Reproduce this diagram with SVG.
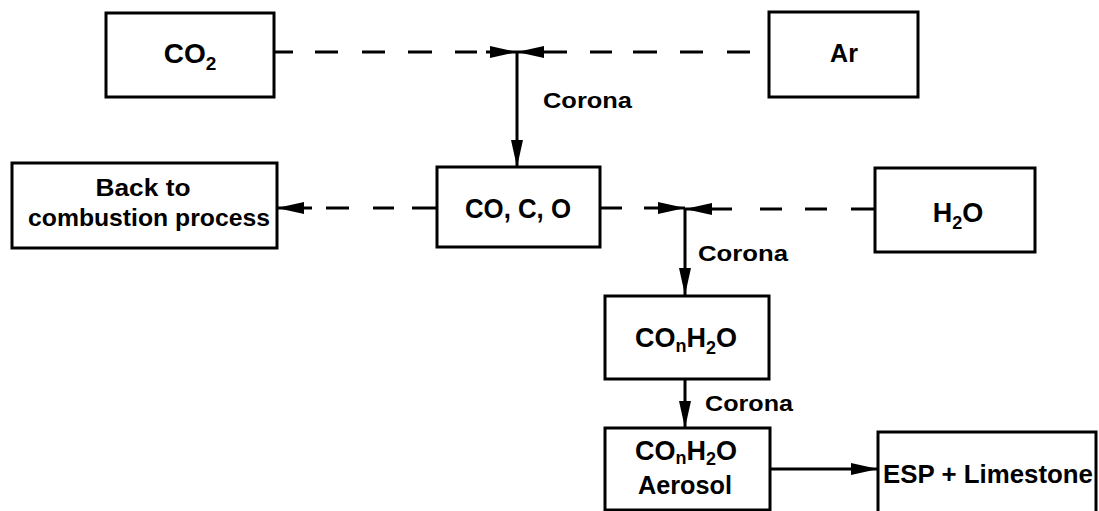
<svg xmlns="http://www.w3.org/2000/svg" width="1099" height="511" viewBox="0 0 1099 511">
<style>
.box{fill:#fff;stroke:#000;stroke-width:3}
.ln{fill:none;stroke:#000;stroke-width:3}
.t{font-family:"Liberation Sans",Arial,sans-serif;font-weight:bold;fill:#000;text-anchor:middle}
.lab{font-family:"Liberation Sans",Arial,sans-serif;font-weight:bold;fill:#000;font-size:22px}
</style>
<defs>
<marker id="ah" markerUnits="userSpaceOnUse" markerWidth="28" markerHeight="14" refX="27" refY="7" orient="auto">
<path d="M0,1 L27,7 L0,13 Z" fill="#000"/>
</marker>
</defs>
<rect width="1099" height="511" fill="#fff"/>
<g id="connectors">
<path class="ln" d="M274 52 H293 M315 52 H338 M362 52 H385 M408 52 H432 M455 52 H477 M486 52 H517" marker-end="url(#ah)"/>
<path class="ln" d="M750 52 H727 M703 52 H680 M657 52 H633 M612 52 H590 M567 52 H517" marker-end="url(#ah)"/>
<path class="ln" d="M517 52 V167" marker-end="url(#ah)"/>
<path class="ln" d="M437 208 H412 M394 208 H373 M349 208 H326 M312 208 H277" marker-end="url(#ah)"/>
<path class="ln" d="M600 208 H622 M644 208 H685" marker-end="url(#ah)"/>
<path class="ln" d="M874 209 H851 M827 209 H805 M782 209 H760 M732 209 H685" marker-end="url(#ah)"/>
<path class="ln" d="M685 208 V295" marker-end="url(#ah)"/>
<path class="ln" d="M685 379 V428" marker-end="url(#ah)"/>
<path class="ln" d="M770 469 H878" marker-end="url(#ah)"/>
<text class="lab" x="543" y="108" textLength="89" lengthAdjust="spacingAndGlyphs">Corona</text>
<text class="lab" x="698" y="261" textLength="90" lengthAdjust="spacingAndGlyphs">Corona</text>
<text class="lab" x="705" y="411" textLength="88" lengthAdjust="spacingAndGlyphs">Corona</text>
</g>
<g id="co2">
<rect class="box" x="106" y="13" width="168" height="84"/>
<text class="t" x="190" y="63" font-size="28">CO<tspan font-size="19" dy="7">2</tspan></text>
</g>
<g id="ar">
<rect class="box" x="769" y="12" width="149" height="85"/>
<text class="t" x="844" y="62" font-size="25">Ar</text>
</g>
<g id="back">
<rect class="box" x="12" y="163" width="265" height="85"/>
<text class="t" x="143" y="196" font-size="24" textLength="95" lengthAdjust="spacingAndGlyphs">Back to</text>
<text class="t" x="149" y="226" font-size="24" textLength="242" lengthAdjust="spacingAndGlyphs">combustion process</text>
</g>
<g id="coco">
<rect class="box" x="437" y="167" width="163" height="80"/>
<text class="t" x="518" y="218" font-size="27" textLength="106" lengthAdjust="spacingAndGlyphs">CO, C, O</text>
</g>
<g id="h2o">
<rect class="box" x="875" y="168" width="160" height="84"/>
<text class="t" x="958" y="222" font-size="27">H<tspan font-size="18" dy="7">2</tspan><tspan dy="-7">O</tspan></text>
</g>
<g id="conh2o">
<rect class="box" x="605" y="296" width="164" height="83"/>
<text class="t" x="686" y="347" font-size="27">CO<tspan font-size="18" dy="5">n</tspan><tspan dy="-5">H</tspan><tspan font-size="18" dy="7">2</tspan><tspan dy="-7">O</tspan></text>
</g>
<g id="aerosol">
<rect class="box" x="605" y="428" width="165" height="82"/>
<text class="t" x="686" y="460" font-size="27">CO<tspan font-size="18" dy="4">n</tspan><tspan dy="-4">H</tspan><tspan font-size="18" dy="5">2</tspan><tspan dy="-5">O</tspan></text>
<text class="t" x="685" y="494" font-size="25" textLength="94" lengthAdjust="spacingAndGlyphs">Aerosol</text>
</g>
<g id="esp">
<rect class="box" x="878" y="432" width="218" height="82"/>
<text class="t" x="988" y="483" font-size="26" textLength="210" lengthAdjust="spacingAndGlyphs">ESP + Limestone</text>
</g>
</svg>
